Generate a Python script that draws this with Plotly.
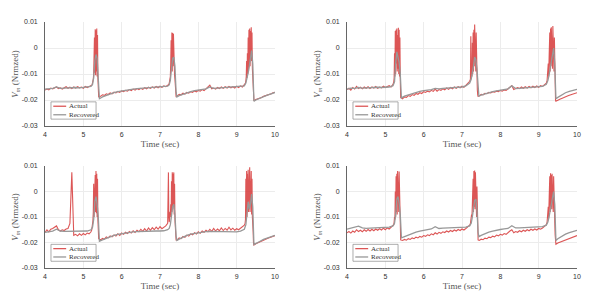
import plotly.graph_objects as go

# ---------------- data ----------------
t_act = [4.00,4.05,4.10,4.15,4.20,4.25,4.30,4.35,4.40,4.45,4.50,4.55,4.60,4.65,4.70,4.75,4.80,4.85,4.90,4.95,5.00,5.05,5.10,5.15,5.20,
         5.22,5.23,5.24,5.25,5.26,5.27,5.28,5.29,5.30,5.31,5.32,5.33,5.34,5.35,5.36,5.37,5.38,5.39,5.40,
         5.45,5.50,5.55,5.60,5.65,5.70,5.75,5.80,5.85,5.90,5.95,6.00,6.05,6.10,6.15,6.20,6.25,6.30,6.35,6.40,6.45,6.50,6.55,6.60,6.65,6.70,6.75,6.80,6.85,6.90,6.95,7.00,7.05,7.10,7.15,7.20,
         7.22,7.23,7.24,7.25,7.26,7.27,7.28,7.29,7.30,7.31,7.32,7.33,7.34,7.35,7.36,7.37,7.38,7.39,7.40,7.41,7.42,
         7.45,7.50,7.55,7.60,7.65,7.70,7.75,7.80,7.85,7.90,7.95,8.00,8.05,8.10,8.15,8.20,8.25,8.30,8.35,8.40,8.45,8.50,8.55,8.60,8.65,8.70,8.75,8.80,8.85,8.90,8.95,9.00,9.05,9.10,9.15,9.20,
         9.22,9.23,9.24,9.25,9.26,9.27,9.28,9.29,9.30,9.31,9.32,9.33,9.34,9.35,9.36,9.37,9.38,9.39,9.40,9.41,9.42,9.43,9.44,
         9.45,9.50,9.55,9.60,9.65,9.70,9.75,9.80,9.85,9.90,9.95,10.00]

t_rec = [4.0,4.1,4.2,4.3,4.4,4.5,4.6,4.7,4.8,4.9,5.0,5.1,5.2,
         5.24,5.27,5.30,5.33,5.36,5.39,5.42,
         5.5,5.6,5.7,5.8,5.9,6.0,6.1,6.2,6.3,6.4,6.5,6.6,6.7,6.8,6.9,7.0,7.1,7.2,
         7.24,7.27,7.30,7.33,7.36,7.39,7.42,7.44,
         7.5,7.6,7.7,7.8,7.9,8.0,8.1,8.2,8.3,8.4,8.5,8.6,8.7,8.8,8.9,9.0,9.1,9.2,
         9.24,9.27,9.30,9.33,9.36,9.39,9.42,9.45,
         9.5,9.6,9.7,9.8,9.9,10.0]

# Panel A (top-left)
actual_a = [-0.0162,-0.0158,-0.0161,-0.0154,-0.0157,-0.0152,-0.0150,-0.0156,-0.0153,-0.0158,-0.0154,-0.0149,-0.0155,-0.0151,-0.0156,-0.0150,-0.0154,-0.0149,-0.0153,-0.0150,-0.0155,-0.0148,-0.0152,-0.0149,-0.0146,
            -0.0143,-0.0140,-0.0135,-0.0128,-0.0120,-0.0100,-0.0060,0.0040,-0.0095,0.0072,-0.0105,0.0068,-0.0090,0.0075,-0.0110,0.0050,-0.0115,-0.0160,-0.0188,
            -0.0186,-0.0180,-0.0182,-0.0176,-0.0179,-0.0173,-0.0176,-0.0170,-0.0173,-0.0167,-0.0171,-0.0165,-0.0168,-0.0163,-0.0166,-0.0160,-0.0164,-0.0158,-0.0162,-0.0156,-0.0160,-0.0155,-0.0159,-0.0153,-0.0157,-0.0151,-0.0155,-0.0150,-0.0154,-0.0148,-0.0153,-0.0147,-0.0151,-0.0146,-0.0149,-0.0144,
            -0.0143,-0.0140,-0.0136,-0.0130,-0.0122,-0.0110,-0.0060,0.0030,-0.0080,0.0060,-0.0090,0.0058,-0.0070,0.0055,-0.0095,0.0020,-0.0105,-0.0120,-0.0150,-0.0175,-0.0186,
            -0.0184,-0.0178,-0.0180,-0.0174,-0.0177,-0.0171,-0.0174,-0.0168,-0.0171,-0.0165,-0.0169,-0.0163,-0.0166,-0.0160,-0.0164,-0.0158,-0.0150,-0.0143,-0.0157,-0.0154,-0.0158,-0.0152,-0.0156,-0.0150,-0.0155,-0.0149,-0.0154,-0.0148,-0.0153,-0.0149,-0.0154,-0.0147,-0.0152,-0.0146,-0.0150,-0.0143,
            -0.0140,-0.0135,-0.0125,-0.0110,-0.0050,-0.0115,-0.0020,-0.0100,0.0040,-0.0090,0.0070,-0.0060,0.0075,-0.0070,0.0065,-0.0040,0.0080,-0.0050,0.0060,-0.0080,-0.0110,-0.0160,-0.0200,
            -0.0203,-0.0198,-0.0196,-0.0192,-0.0190,-0.0186,-0.0184,-0.0181,-0.0178,-0.0176,-0.0172,-0.0170]
recovered_a = [-0.0158,-0.0156,-0.0155,-0.0150,-0.0155,-0.0154,-0.0153,-0.0154,-0.0152,-0.0153,-0.0152,-0.0151,-0.0148,
               -0.0140,-0.0115,-0.0050,-0.0025,-0.0040,-0.0100,-0.0195,
               -0.0188,-0.0182,-0.0177,-0.0172,-0.0168,-0.0165,-0.0162,-0.0160,-0.0158,-0.0156,-0.0155,-0.0153,-0.0152,-0.0151,-0.0150,-0.0150,-0.0149,-0.0147,
               -0.0142,-0.0125,-0.0080,-0.0040,-0.0035,-0.0070,-0.0170,-0.0188,
               -0.0183,-0.0177,-0.0172,-0.0168,-0.0164,-0.0161,-0.0158,-0.0157,-0.0150,-0.0155,-0.0154,-0.0153,-0.0152,-0.0151,-0.0151,-0.0150,-0.0149,-0.0146,
               -0.0135,-0.0120,-0.0095,-0.0070,-0.0035,-0.0010,-0.0060,-0.0205,
               -0.0200,-0.0193,-0.0187,-0.0181,-0.0176,-0.0171]

# Panel B (top-right)
actual_b = [-0.0160,-0.0155,-0.0162,-0.0152,-0.0158,-0.0148,-0.0156,-0.0151,-0.0157,-0.0150,-0.0155,-0.0149,-0.0156,-0.0150,-0.0154,-0.0148,-0.0155,-0.0150,-0.0153,-0.0147,-0.0152,-0.0149,-0.0145,-0.0150,-0.0140,
            -0.0130,-0.0115,-0.0020,-0.0110,0.0065,-0.0100,0.0070,-0.0060,0.0075,-0.0090,0.0050,-0.0080,0.0078,-0.0100,0.0070,-0.0110,0.0040,-0.0120,-0.0190,
            -0.0195,-0.0188,-0.0190,-0.0183,-0.0186,-0.0179,-0.0182,-0.0175,-0.0178,-0.0172,-0.0175,-0.0168,-0.0171,-0.0166,-0.0169,-0.0163,-0.0167,-0.0158,-0.0166,-0.0160,-0.0163,-0.0157,-0.0161,-0.0154,-0.0159,-0.0152,-0.0157,-0.0150,-0.0155,-0.0149,-0.0153,-0.0147,-0.0151,-0.0143,-0.0138,-0.0128,
            -0.0120,0.0045,-0.0115,-0.0080,-0.0110,0.0020,-0.0100,0.0060,-0.0090,0.0070,-0.0070,0.0090,-0.0080,0.0075,-0.0090,0.0060,-0.0105,-0.0120,-0.0160,-0.0180,-0.0186,
            -0.0185,-0.0178,-0.0180,-0.0174,-0.0176,-0.0171,-0.0173,-0.0168,-0.0170,-0.0166,-0.0168,-0.0163,-0.0166,-0.0161,-0.0163,-0.0158,-0.0152,-0.0145,-0.0160,-0.0157,-0.0152,-0.0156,-0.0150,-0.0155,-0.0149,-0.0154,-0.0148,-0.0153,-0.0147,-0.0152,-0.0146,-0.0151,-0.0145,-0.0148,-0.0140,-0.0135,
            -0.0125,-0.0100,-0.0120,-0.0060,-0.0110,0.0000,-0.0100,0.0060,-0.0090,0.0075,-0.0070,0.0080,-0.0060,0.0070,-0.0080,0.0085,-0.0050,0.0065,-0.0090,0.0040,-0.0110,-0.0150,-0.0200,
            -0.0205,-0.0200,-0.0197,-0.0194,-0.0190,-0.0188,-0.0185,-0.0182,-0.0180,-0.0177,-0.0175,-0.0172]
recovered_b = [-0.0158,-0.0154,-0.0155,-0.0152,-0.0154,-0.0153,-0.0152,-0.0153,-0.0151,-0.0152,-0.0151,-0.0150,-0.0145,
               -0.0130,-0.0060,-0.0015,-0.0035,-0.0055,-0.0100,-0.0192,
               -0.0185,-0.0180,-0.0175,-0.0171,-0.0167,-0.0164,-0.0162,-0.0160,-0.0155,-0.0157,-0.0155,-0.0154,-0.0153,-0.0152,-0.0151,-0.0150,-0.0146,-0.0135,
               -0.0120,-0.0100,-0.0070,-0.0035,-0.0045,-0.0080,-0.0170,-0.0185,
               -0.0181,-0.0176,-0.0172,-0.0168,-0.0165,-0.0162,-0.0159,-0.0157,-0.0145,-0.0156,-0.0155,-0.0154,-0.0153,-0.0152,-0.0151,-0.0150,-0.0148,-0.0140,
               -0.0125,-0.0105,-0.0080,-0.0050,-0.0020,0.0000,-0.0060,-0.0195,
               -0.0190,-0.0180,-0.0172,-0.0167,-0.0163,-0.0159]

# Panel C (bottom-left)
actual_c = [-0.0160,-0.0150,-0.0158,-0.0148,-0.0145,-0.0138,-0.0135,-0.0150,-0.0155,-0.0150,-0.0153,-0.0147,-0.0145,-0.0125,0.0075,-0.0172,-0.0168,-0.0174,-0.0166,-0.0172,-0.0165,-0.0170,-0.0163,-0.0166,-0.0158,
            -0.0150,-0.0140,-0.0130,-0.0115,-0.0080,0.0030,-0.0100,0.0045,-0.0090,0.0065,-0.0080,0.0080,-0.0085,0.0070,-0.0100,0.0050,-0.0110,-0.0140,-0.0185,
            -0.0190,-0.0184,-0.0187,-0.0178,-0.0182,-0.0174,-0.0178,-0.0170,-0.0175,-0.0166,-0.0172,-0.0163,-0.0168,-0.0160,-0.0165,-0.0157,-0.0163,-0.0154,-0.0161,-0.0152,-0.0158,-0.0148,-0.0156,-0.0146,-0.0155,-0.0143,-0.0152,-0.0142,-0.0150,-0.0140,-0.0148,-0.0138,-0.0146,-0.0140,-0.0135,-0.0125,
            0.0075,-0.0100,-0.0120,-0.0110,-0.0080,-0.0100,-0.0050,-0.0090,0.0040,-0.0080,0.0075,-0.0070,0.0070,-0.0060,0.0075,-0.0090,0.0030,-0.0110,-0.0150,-0.0180,-0.0190,
            -0.0190,-0.0182,-0.0185,-0.0176,-0.0180,-0.0171,-0.0175,-0.0166,-0.0170,-0.0162,-0.0167,-0.0158,-0.0164,-0.0155,-0.0160,-0.0152,-0.0158,-0.0148,-0.0156,-0.0145,-0.0155,-0.0147,-0.0154,-0.0143,-0.0153,-0.0145,-0.0152,-0.0140,-0.0151,-0.0144,-0.0152,-0.0146,-0.0150,-0.0145,-0.0140,-0.0132,
            -0.0125,-0.0110,0.0050,-0.0110,0.0080,-0.0100,0.0070,-0.0060,0.0085,-0.0080,0.0060,-0.0040,0.0095,-0.0080,0.0075,-0.0060,0.0080,-0.0090,0.0050,-0.0100,-0.0120,-0.0160,-0.0205,
            -0.0210,-0.0205,-0.0201,-0.0197,-0.0194,-0.0190,-0.0187,-0.0184,-0.0181,-0.0178,-0.0176,-0.0173]
recovered_c = [-0.0160,-0.0158,-0.0155,-0.0148,-0.0155,-0.0156,-0.0156,-0.0156,-0.0156,-0.0156,-0.0155,-0.0155,-0.0150,
               -0.0140,-0.0110,-0.0040,-0.0020,-0.0050,-0.0100,-0.0195,
               -0.0190,-0.0183,-0.0177,-0.0172,-0.0168,-0.0165,-0.0162,-0.0160,-0.0158,-0.0157,-0.0156,-0.0155,-0.0155,-0.0155,-0.0155,-0.0155,-0.0154,-0.0150,
               -0.0145,-0.0130,-0.0100,-0.0060,-0.0050,-0.0090,-0.0175,-0.0192,
               -0.0187,-0.0178,-0.0172,-0.0167,-0.0164,-0.0161,-0.0159,-0.0157,-0.0156,-0.0156,-0.0157,-0.0157,-0.0157,-0.0157,-0.0157,-0.0158,-0.0155,-0.0148,
               -0.0130,-0.0080,-0.0040,-0.0070,-0.0050,-0.0010,-0.0060,-0.0208,
               -0.0205,-0.0196,-0.0188,-0.0182,-0.0177,-0.0172]

# Panel D (bottom-right)
actual_d = [-0.0162,-0.0157,-0.0163,-0.0155,-0.0160,-0.0150,-0.0157,-0.0152,-0.0158,-0.0150,-0.0156,-0.0149,-0.0155,-0.0148,-0.0154,-0.0147,-0.0152,-0.0146,-0.0151,-0.0144,-0.0150,-0.0143,-0.0147,-0.0140,-0.0135,
            -0.0130,-0.0120,-0.0100,-0.0110,0.0000,-0.0100,0.0060,-0.0080,0.0070,-0.0090,0.0080,-0.0070,0.0065,-0.0080,0.0078,-0.0100,0.0050,-0.0120,-0.0190,
            -0.0192,-0.0188,-0.0191,-0.0185,-0.0188,-0.0182,-0.0185,-0.0179,-0.0182,-0.0176,-0.0179,-0.0173,-0.0176,-0.0170,-0.0173,-0.0166,-0.0170,-0.0162,-0.0167,-0.0160,-0.0164,-0.0158,-0.0161,-0.0155,-0.0159,-0.0153,-0.0157,-0.0151,-0.0155,-0.0149,-0.0153,-0.0147,-0.0151,-0.0145,-0.0140,-0.0132,
            -0.0125,-0.0110,-0.0120,-0.0090,-0.0100,-0.0030,-0.0095,0.0050,-0.0080,0.0080,-0.0060,0.0082,-0.0070,0.0075,-0.0080,0.0060,-0.0100,0.0020,-0.0120,-0.0165,-0.0190,
            -0.0192,-0.0187,-0.0189,-0.0183,-0.0185,-0.0179,-0.0181,-0.0175,-0.0178,-0.0171,-0.0174,-0.0168,-0.0171,-0.0165,-0.0168,-0.0160,-0.0155,-0.0150,-0.0162,-0.0157,-0.0160,-0.0154,-0.0158,-0.0152,-0.0156,-0.0150,-0.0154,-0.0148,-0.0152,-0.0147,-0.0151,-0.0145,-0.0148,-0.0143,-0.0138,-0.0130,
            -0.0120,-0.0100,-0.0115,-0.0060,-0.0105,0.0010,-0.0090,0.0060,-0.0080,0.0072,-0.0060,0.0065,-0.0070,0.0070,-0.0060,0.0055,-0.0080,0.0060,-0.0100,0.0020,-0.0120,-0.0170,-0.0205,
            -0.0207,-0.0202,-0.0199,-0.0195,-0.0192,-0.0189,-0.0186,-0.0183,-0.0180,-0.0178,-0.0175,-0.0173]
recovered_d = [-0.0148,-0.0145,-0.0142,-0.0136,-0.0143,-0.0145,-0.0144,-0.0143,-0.0142,-0.0142,-0.0141,-0.0140,-0.0135,
               -0.0125,-0.0090,-0.0030,-0.0020,-0.0045,-0.0090,-0.0182,
               -0.0177,-0.0170,-0.0164,-0.0159,-0.0155,-0.0152,-0.0149,-0.0147,-0.0138,-0.0145,-0.0144,-0.0143,-0.0142,-0.0142,-0.0141,-0.0141,-0.0140,-0.0135,
               -0.0125,-0.0100,-0.0060,-0.0035,-0.0030,-0.0070,-0.0160,-0.0177,
               -0.0172,-0.0165,-0.0159,-0.0155,-0.0151,-0.0149,-0.0147,-0.0145,-0.0134,-0.0143,-0.0143,-0.0142,-0.0141,-0.0140,-0.0140,-0.0139,-0.0138,-0.0132,
               -0.0120,-0.0100,-0.0075,-0.0045,-0.0015,0.0000,-0.0050,-0.0192,
               -0.0185,-0.0175,-0.0167,-0.0161,-0.0156,-0.0152]

x_ticks = [4, 5, 6, 7, 8, 9, 10]
y_ticks = [-0.03, -0.02, -0.01, 0, 0.01]
y_tick_text = ["-0.03", "-0.02", "-0.01", "0", "0.01"]
series_names = ["Actual", "Recovered"]
x_title = "Time (sec)"
y_title = "<i>V</i><sub><i>m</i></sub> (Nrmzed)"

panels = [(actual_a, recovered_a), (actual_b, recovered_b), (actual_c, recovered_c), (actual_d, recovered_d)]
for a, r in panels:
    assert len(a) == len(t_act), (len(a), len(t_act))
    assert len(r) == len(t_rec), (len(r), len(t_rec))

# ---------------- styling ----------------
W, H = 598, 302
RED = "rgba(214,56,56,0.85)"
GRAY = "rgb(152,152,152)"
SANS = "Liberation Sans, Arial, sans-serif"
SERIF = "Liberation Serif, Times New Roman, serif"

x_domains = [(45 / W, 275 / W), (347 / W, 577 / W), (45 / W, 275 / W), (347 / W, 577 / W)]
y_domains = [(1 - 126 / H, 1 - 22 / H), (1 - 126 / H, 1 - 22 / H), (1 - 268 / H, 1 - 166 / H), (1 - 268 / H, 1 - 166 / H)]

fig = go.Figure()
layout = dict(width=W, height=H, margin=dict(l=0, r=0, t=0, b=0),
              paper_bgcolor="white", plot_bgcolor="white", showlegend=False)
shapes, annos = [], []

for i, (act, rec) in enumerate(panels):
    k = "" if i == 0 else str(i + 1)
    fig.add_trace(go.Scatter(x=t_act, y=act, mode="lines", name=series_names[0],
                             line=dict(color=RED, width=1.1), xaxis="x" + k, yaxis="y" + k))
    fig.add_trace(go.Scatter(x=t_rec, y=rec, mode="lines", name=series_names[1],
                             line=dict(color=GRAY, width=1.3), xaxis="x" + k, yaxis="y" + k))
    layout["xaxis" + k] = dict(domain=list(x_domains[i]), anchor="y" + k, range=[4, 10],
                               tickvals=x_ticks, showgrid=True, gridcolor="#ececec", gridwidth=1,
                               zeroline=False, showline=True, linecolor="#666", linewidth=0.8,
                               ticks="", ticklabelstandoff=2, automargin=False,
                               tickfont=dict(family=SANS, size=7, color="#333"),
                               title=dict(text=x_title, font=dict(family=SERIF, size=9, color="#555"), standoff=3))
    layout["yaxis" + k] = dict(domain=list(y_domains[i]), anchor="x" + k, range=[-0.03, 0.01],
                               tickvals=y_ticks, ticktext=y_tick_text, showgrid=True, gridcolor="#ececec",
                               gridwidth=1, zeroline=False, showline=True, linecolor="#666", linewidth=0.8,
                               ticks="", ticklabelstandoff=5, automargin=False,
                               tickfont=dict(family=SANS, size=7, color="#333"),
                               title=dict(text=y_title, font=dict(family=SERIF, size=9, color="#555"), standoff=1))
    xr, yr = "x" + k + " domain", "y" + k + " domain"
    # legend box
    shapes.append(dict(type="rect", xref=xr, yref=yr, x0=0.026, x1=0.222, y0=0.066, y1=0.232,
                       line=dict(color="#888", width=0.7), fillcolor="white", layer="above"))
    for j, (yy, col, nm) in enumerate([(0.19, RED, series_names[0]), (0.108, GRAY, series_names[1])]):
        shapes.append(dict(type="line", xref=xr, yref=yr, x0=0.036, x1=0.092, y0=yy, y1=yy,
                           line=dict(color=col, width=1.3), layer="above"))
        annos.append(dict(xref=xr, yref=yr, x=0.097, y=yy, text=nm, showarrow=False,
                          xanchor="left", yanchor="middle",
                          font=dict(family=SERIF, size=7, color="#333")))

layout["shapes"] = shapes
layout["annotations"] = annos
fig.update_layout(**layout)
fig.write_html("out.html", config={"displayModeBar": False},
               post_script="document.body.style.margin='0';")
